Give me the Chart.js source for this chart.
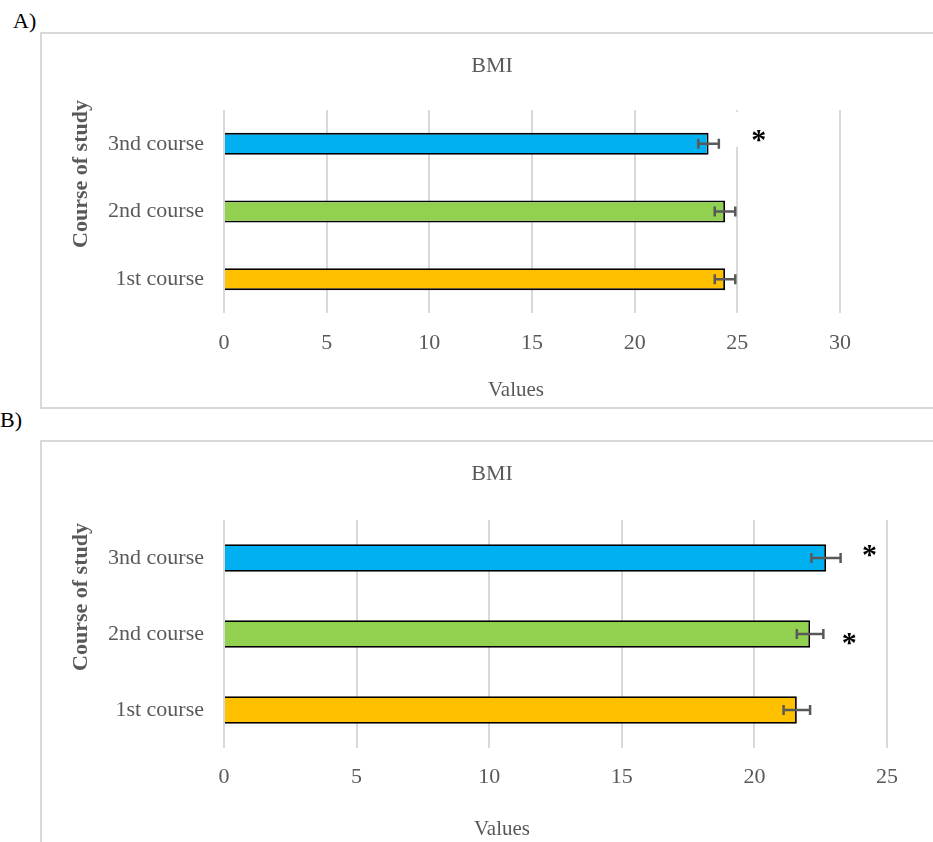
<!DOCTYPE html>
<html>
<head>
<meta charset="utf-8">
<script src="https://cdn.jsdelivr.net/npm/chart.js@4.4.1/dist/chart.umd.min.js"></script>
<style>
  html, body { margin: 0; padding: 0; background: #fff; overflow: hidden; width: 933px; height: 842px; }
  .frame { position: absolute; left: 0; top: 0; width: 933px; height: 842px; overflow: hidden; }
  .panel { position: absolute; left: 40px; width: 1000px; border-left: 2px solid #d9d9d9; border-top: 2px solid #d9d9d9; }
  #panelA { top: 32px; height: 373px; border-bottom: 2px solid #d9d9d9; }
  #panelB { top: 440px; height: 420px; }
  .tag { position: absolute; font: 22px 'Liberation Serif', 'Times New Roman', serif; line-height: 22px; color: #000; }
  canvas { display: block; }
</style>
</head>
<body>
<div class="frame">
  <div class="tag" style="left:13px; top:10px;">A)</div>
  <div class="tag" style="left:0px; top:409px;">B)</div>
  <div class="panel" id="panelA"><canvas id="chartA" width="900" height="373"></canvas></div>
  <div class="panel" id="panelB"><canvas id="chartB" width="900" height="400"></canvas></div>
</div>

<script>
// Categories (bottom to top on the chart)
const categories = ['1st course', '2nd course', '3nd course'];
const barColors = ['#FFC000', '#92D050', '#00B0F0'];

// Panel A: mean BMI and standard error per course
const bmiA = [24.4, 24.4, 23.6];
const semA = [0.5, 0.5, 0.5];
const sigA = [false, false, true];
const axisMaxA = 30;

// Panel B: mean BMI and standard error per course
const bmiB = [21.6, 22.1, 22.7];
const semB = [0.5, 0.5, 0.55];
const sigB = [false, true, true];
const axisMaxB = 25;

const xTickStep = 5;
const chartTitle = 'BMI';
const yAxisTitle = 'Course of study';
const xAxisTitle = 'Values';

const SERIF = "'Liberation Serif', 'Times New Roman', serif";
const TEXT = '#595959';

// Error bars drawn from the x scale at mean ± sem
const errorBarPlugin = {
  id: 'errorBars',
  afterDatasetsDraw(chart, args, opts) {
    const { ctx } = chart;
    const xs = chart.scales.x;
    const meta = chart.getDatasetMeta(0);
    const means = chart.data.datasets[0].data;
    ctx.save();
    ctx.strokeStyle = opts.color;
    ctx.lineWidth = opts.width;
    meta.data.forEach((bar, i) => {
      const e = opts.errors[i];
      const x0 = xs.getPixelForValue(means[i] - e);
      const x1 = xs.getPixelForValue(means[i] + e);
      const y = bar.y;
      const h = opts.cap / 2;
      ctx.beginPath();
      ctx.moveTo(x0, y); ctx.lineTo(x1, y);
      ctx.moveTo(x0, y - h); ctx.lineTo(x0, y + h);
      ctx.moveTo(x1, y - h); ctx.lineTo(x1, y + h);
      ctx.stroke();
    });
    ctx.restore();
  }
};

// Significance markers beside the error bars
const starPlugin = {
  id: 'stars',
  afterDatasetsDraw(chart, args, opts) {
    const { ctx } = chart;
    const xs = chart.scales.x;
    const meta = chart.getDatasetMeta(0);
    const means = chart.data.datasets[0].data;
    ctx.save();
    ctx.font = opts.font;
    ctx.fillStyle = '#000';
    ctx.textAlign = 'center';
    ctx.textBaseline = 'alphabetic';
    const m = ctx.measureText('*');
    const shift = (m.actualBoundingBoxAscent - m.actualBoundingBoxDescent) / 2;
    meta.data.forEach((bar, i) => {
      if (!opts.flags[i]) return;
      const off = opts.offsets[i];
      const cx = xs.getPixelForValue(means[i] + opts.errors[i]) + off[0];
      const cy = bar.y + off[1];
      if (opts.box) {
        ctx.save();
        ctx.fillStyle = '#fff';
        ctx.fillRect(cx - opts.box[0], cy - opts.box[1], opts.box[2], opts.box[3]);
        ctx.restore();
      }
      ctx.fillText('*', cx, cy + shift);
    });
    ctx.restore();
  }
};

// Axis captions
const captionPlugin = {
  id: 'captions',
  afterDraw(chart, args, opts) {
    const { ctx } = chart;
    ctx.save();
    ctx.fillStyle = TEXT;
    ctx.textAlign = 'center';
    ctx.textBaseline = 'middle';
    ctx.font = `bold 22px ${SERIF}`;
    ctx.translate(opts.yTitle.x, opts.yTitle.y);
    ctx.rotate(-Math.PI / 2);
    ctx.fillText(yAxisTitle, 0, 0);
    ctx.restore();
    ctx.save();
    ctx.fillStyle = TEXT;
    ctx.textAlign = 'center';
    ctx.textBaseline = 'middle';
    ctx.font = `21px ${SERIF}`;
    ctx.fillText(xAxisTitle, opts.xTitle.x, opts.xTitle.y);
    ctx.restore();
  }
};

function makeChart(id, means, sems, flags, axisMax, cfg) {
  return new Chart(document.getElementById(id), {
    type: 'bar',
    data: {
      labels: categories,
      datasets: [{
        data: means,
        backgroundColor: barColors,
        borderColor: '#000',
        borderWidth: 1.8,
        borderSkipped: 'start',
        categoryPercentage: 1,
        barPercentage: cfg.barPct
      }]
    },
    options: {
      indexAxis: 'y',
      responsive: false,
      animation: false,
      layout: { padding: 0 },
      plugins: {
        legend: { display: false },
        tooltip: { enabled: false },
        title: {
          display: true,
          text: chartTitle,
          color: TEXT,
          font: { family: SERIF, size: 22, weight: 'normal' },
          padding: { top: 18.8, bottom: cfg.titleBottom }
        },
        errorBars: { errors: sems, color: '#595959', width: 2.5, cap: 10 },
        stars: { flags: flags, errors: sems, offsets: cfg.starOffsets, font: `bold 30px ${SERIF}`, box: cfg.starBox },
        captions: { yTitle: cfg.yTitle, xTitle: cfg.xTitle }
      },
      scales: {
        x: {
          type: 'linear',
          min: 0,
          max: axisMax,
          ticks: { stepSize: xTickStep, color: TEXT, font: { family: SERIF, size: 22 }, padding: cfg.tickPad },
          grid: { color: '#d9d9d9', lineWidth: 2, drawTicks: false },
          border: { display: false },
          afterFit(s) { s.height = cfg.xHeight; }
        },
        y: {
          reverse: true,
          ticks: { color: TEXT, font: { family: SERIF, size: 22 }, padding: 20 },
          grid: { display: false, drawTicks: false },
          border: { display: false },
          afterFit(s) { s.width = 182; }
        },
        // blank margin to the right of the plot area
        yRight: {
          type: 'category',
          position: 'right',
          labels: categories,
          ticks: { display: false },
          grid: { display: false, drawTicks: false },
          border: { display: false },
          afterFit(s) { s.width = cfg.rightGap; }
        }
      }
    },
    plugins: [errorBarPlugin, starPlugin, captionPlugin]
  });
}

makeChart('chartA', bmiA, semA, sigA, axisMaxA, {
  barPct: 0.325,
  rightGap: 102,
  titleBottom: 30.8,
  tickPad: 17,
  xHeight: 94,
  starOffsets: [[0, 0], [0, 0], [40, -8]],
  starBox: [28, 24, 56, 35],
  yTitle: { x: 39, y: 140 },
  xTitle: { x: 474, y: 356 }
});

makeChart('chartB', bmiB, semB, sigB, axisMaxB, {
  barPct: 0.36,
  rightGap: 55,
  titleBottom: 32.8,
  tickPad: 16,
  xHeight: 94,
  starOffsets: [[0, 0], [26, 5], [29, -7]],
  starBox: null,
  yTitle: { x: 39, y: 155 },
  xTitle: { x: 460, y: 387 }
});
</script>
</body>
</html>
